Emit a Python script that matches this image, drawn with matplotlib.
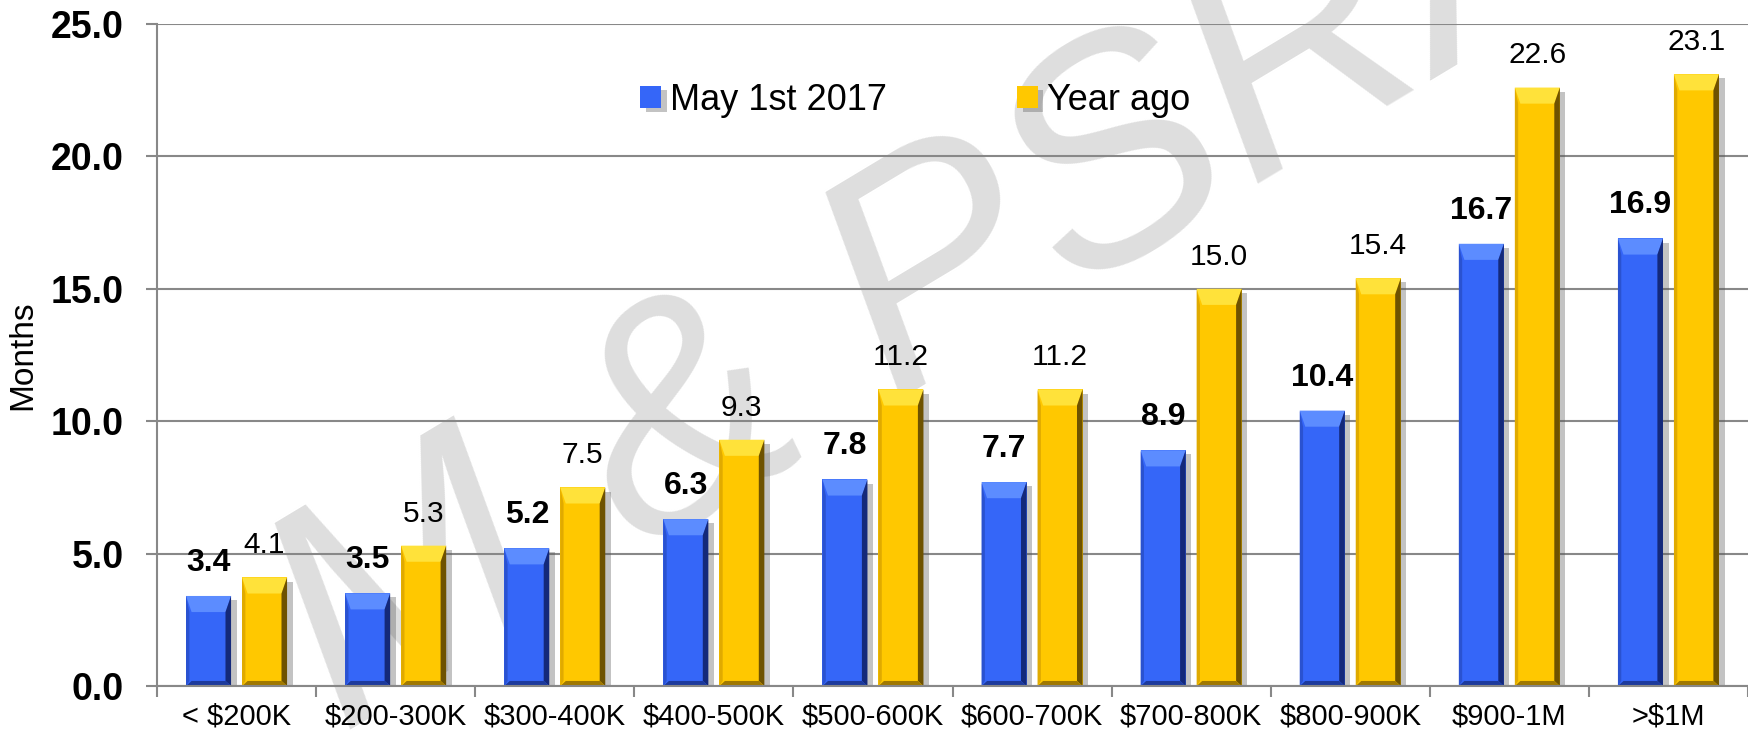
import numpy as np
import matplotlib
matplotlib.use("Agg")
import matplotlib.pyplot as plt
from matplotlib.patches import Polygon
import matplotlib.patheffects as pe

plt.rcParams['font.family'] = ['Liberation Sans', 'DejaVu Sans']

# Data
categories = ['< $200K', '$200-300K', '$300-400K', '$400-500K', '$500-600K',
              '$600-700K', '$700-800K', '$800-900K', '$900-1M', '>$1M']
may_2017 = [3.4, 3.5, 5.2, 6.3, 7.8, 7.7, 8.9, 10.4, 16.7, 16.9]
year_ago = [4.1, 5.3, 7.5, 9.3, 11.2, 11.2, 15.0, 15.4, 22.6, 23.1]
series_names = ['May 1st 2017', 'Year ago']
y_ticks = [0, 5, 10, 15, 20, 25]

blue = dict(face='#3566F8', top='#5C8CFF', right='#14297A', left='#2A52D0', bottom='#1D3A9C')
gold = dict(face='#FFC800', top='#FFE23A', right='#6E5200', left='#E0AA00', bottom='#A07800')

fig = plt.figure(figsize=(17.48, 7.36), dpi=100)
ax = fig.add_axes([157 / 1748, 1 - 686 / 736, 1 - 157 / 1748, (686 - 24) / 736])

x = np.arange(len(categories))
width = 0.283
offset = 0.176


def bevel_bars(xs, vals, col):
    bars = ax.bar(xs, vals, width, color=col['face'], zorder=2,
                  path_effects=[pe.SimplePatchShadow(offset=(4, -3), shadow_rgbFace='#555555', alpha=0.35),
                                pe.Normal()])
    bx = 0.035
    by = 0.38
    for b in bars:
        x0 = b.get_x()
        w = b.get_width()
        h = b.get_height()
        x1 = x0 + w
        polys = [
            ([(x0, h), (x1, h), (x1 - bx, h - by * 1.6), (x0 + bx, h - by * 1.6)], col['top']),
            ([(x1, h), (x1, 0), (x1 - bx, by * 0.5), (x1 - bx, h - by * 1.6)], col['right']),
            ([(x0, h), (x0, 0), (x0 + bx * 0.6, by * 0.5), (x0 + bx * 0.6, h - by * 1.6)], col['left']),
            ([(x0, 0), (x1, 0), (x1 - bx, by * 0.5), (x0 + bx, by * 0.5)], col['bottom']),
        ]
        for pts, c in polys:
            ax.add_patch(Polygon(pts, closed=True, facecolor=c, edgecolor='none', zorder=2.1))
    return bars


b1 = bevel_bars(x - offset, may_2017, blue)
b2 = bevel_bars(x + offset, year_ago, gold)

for b, v in zip(b1, may_2017):
    ax.annotate(f'{v:.1f}', (b.get_x() + b.get_width() / 2, v), xytext=(0, 13),
                textcoords='offset points', ha='center', va='bottom',
                fontsize=23, fontweight='bold', zorder=4)
for b, v in zip(b2, year_ago):
    ax.annotate(f'{v:.1f}', (b.get_x() + b.get_width() / 2, v), xytext=(0, 13),
                textcoords='offset points', ha='center', va='bottom',
                fontsize=21.5, zorder=4)

ax.set_xlim(-0.5, len(categories) - 0.5)
ax.set_ylim(0, 25)
ax.set_yticks(y_ticks)
ax.set_yticklabels([f'{t:.1f}' for t in y_ticks], fontsize=27, fontweight='bold')
ax.set_xticks(x)
ax.set_xticklabels(categories, fontsize=21)
ax.set_xticks(np.arange(len(categories) + 1) - 0.5, minor=True)
ax.tick_params(axis='x', which='major', length=0, pad=12)
ax.tick_params(axis='x', which='minor', length=8, width=1.5, color='#888888')
ax.tick_params(axis='y', length=8, width=1.5, color='#888888', pad=16)

ax.grid(axis='y', color='#888888', linewidth=1.5, zorder=1)
ax.set_axisbelow(True)
for s in ['top', 'right']:
    ax.spines[s].set_visible(False)
for s in ['left', 'bottom']:
    ax.spines[s].set_color('#888888')
    ax.spines[s].set_linewidth(1.5)

ax.set_ylabel('Months', fontsize=24)
ax.yaxis.set_label_coords(-0.0748, 0.5)

# watermark
ax.text(940 / 1748, 1 - 280 / 736, 'M & PSRA', transform=fig.transFigure,
        fontsize=225, color='#DEDEDE', rotation=31, style='italic',
        ha='center', va='center', zorder=0.3, clip_on=False)

leg = fig.legend([b1[0], b2[0]], series_names, loc='center left',
                 bbox_to_anchor=(640 / 1748, 1 - 100 / 736), ncol=2, frameon=False,
                 fontsize=26, handlelength=0.58, handleheight=0.58, handletextpad=0.25,
                 columnspacing=3.6, borderpad=0, borderaxespad=0)

fig.savefig('out.png', dpi=100)
